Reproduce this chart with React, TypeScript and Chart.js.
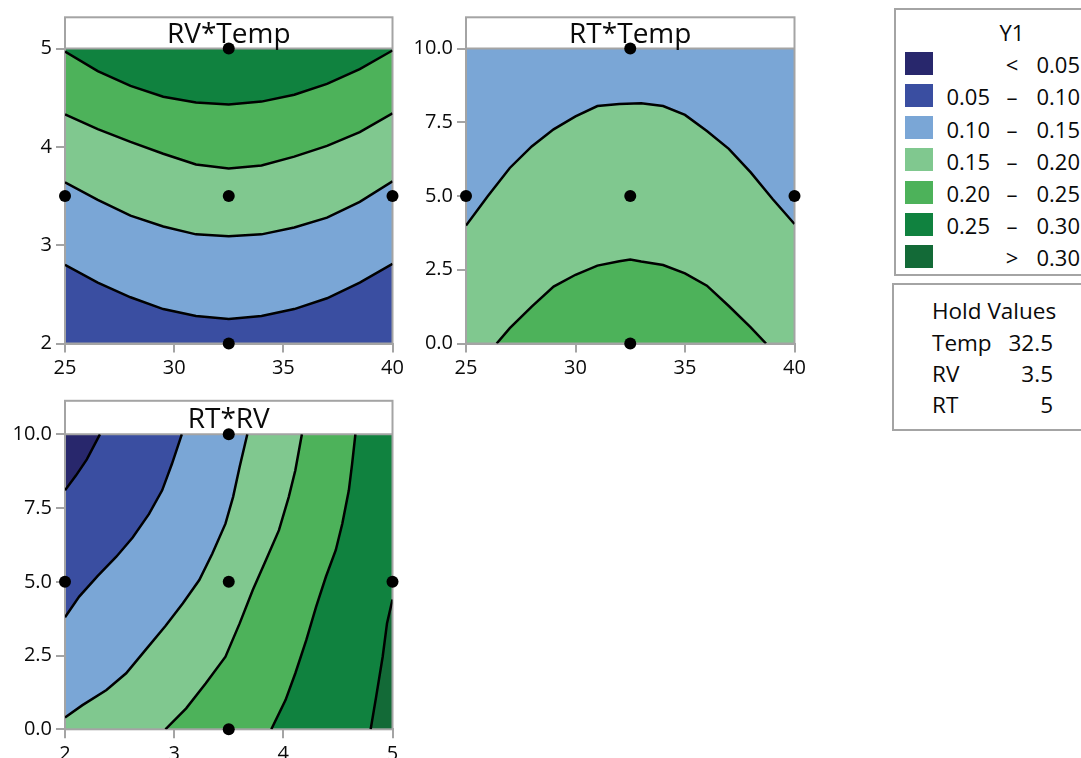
import React, { useEffect, useRef } from "react";
import { Chart, registerables } from "chart.js";

Chart.register(...registerables);

const FONT = "'Open Sans', 'Noto Sans', sans-serif";
const INK = "#0a0a0a";
const FRAME = "#A4A4A4";
const LINE = "#000000";

// ---------- Legend (Y1 bands) ----------
const BAND_COLORS = ["#28276C", "#3A4EA1", "#7AA6D6", "#80C88F", "#4DB25A", "#10823F", "#136A37"];
const BAND_LOW = ["", "0.05", "0.10", "0.15", "0.20", "0.25", ""];
const BAND_SYMBOL = ["<", "–", "–", "–", "–", "–", ">"];
const BAND_HIGH = ["0.05", "0.10", "0.15", "0.20", "0.25", "0.30", "0.30"];
const LEGEND_TITLE = "Y1";

// ---------- Hold values ----------
const HOLD_TITLE = "Hold Values";
const HOLD_NAMES = ["Temp", "RV", "RT"];
const HOLD_VALUES = ["32.5", "3.5", "5"];

// ---------- Axis ranges ----------
const TEMP_MIN = 25, TEMP_MAX = 40, TEMP_STEP = 5;
const RV_MIN = 2, RV_MAX = 5, RV_STEP = 1;
const RT_MIN = 0, RT_MAX = 10, RT_STEP = 2.5;

// ---------- Panel 1: RV*Temp ----------
const P1_TITLE = "RV*Temp";
const P1_TEMP = [25, 26.5, 28, 29.5, 31, 32.5, 34, 35.5, 37, 38.5, 40];
const P1_RV_025 = [4.97, 4.77, 4.62, 4.51, 4.45, 4.43, 4.46, 4.53, 4.64, 4.79, 4.98];
const P1_RV_020 = [4.33, 4.18, 4.05, 3.93, 3.82, 3.78, 3.81, 3.9, 4.01, 4.15, 4.34];
const P1_RV_015 = [3.64, 3.46, 3.3, 3.19, 3.11, 3.09, 3.11, 3.18, 3.28, 3.44, 3.65];
const P1_RV_010 = [2.8, 2.62, 2.47, 2.35, 2.28, 2.25, 2.28, 2.35, 2.46, 2.62, 2.81];
const P1_DESIGN_TEMP = [32.5, 25, 32.5, 40, 32.5];
const P1_DESIGN_RV = [5, 3.5, 3.5, 3.5, 2];

// ---------- Panel 2: RT*Temp ----------
const P2_TITLE = "RT*Temp";
const P2_TEMP_015 = [25, 26, 27, 28, 29, 30, 31, 32, 33, 34, 35, 36, 37, 38, 39, 40];
const P2_RT_015 = [4.0, 5.0, 5.95, 6.68, 7.26, 7.7, 8.05, 8.12, 8.14, 8.05, 7.75, 7.2, 6.6, 5.8, 4.9, 4.05];
const P2_TEMP_020 = [26.4, 27, 28, 29, 30, 31, 32, 32.5, 33, 34, 35, 36, 37, 38, 38.7];
const P2_RT_020 = [0, 0.52, 1.25, 1.93, 2.33, 2.64, 2.79, 2.85, 2.78, 2.66, 2.38, 1.96, 1.27, 0.55, 0];
const P2_DESIGN_TEMP = [32.5, 25, 32.5, 40, 32.5];
const P2_DESIGN_RT = [10, 5, 5, 5, 0];

// ---------- Panel 3: RT*RV ----------
const P3_TITLE = "RT*RV";
const P3_RV_005 = [2, 2.1, 2.2, 2.32];
const P3_RT_005 = [8.1, 8.6, 9.15, 10];
const P3_RV_010 = [2, 2.13, 2.3, 2.47, 2.62, 2.77, 2.89, 2.98, 3.07];
const P3_RT_010 = [3.8, 4.5, 5.2, 5.85, 6.5, 7.3, 8.1, 9.0, 10];
const P3_RV_015 = [2, 2.16, 2.38, 2.56, 2.74, 2.92, 3.08, 3.23, 3.35, 3.47, 3.54, 3.6, 3.67];
const P3_RT_015 = [0.4, 0.82, 1.33, 1.9, 2.7, 3.5, 4.27, 5.06, 5.96, 6.97, 7.88, 8.9, 10];
const P3_RV_020 = [2.92, 3.11, 3.29, 3.47, 3.6, 3.72, 3.84, 3.96, 4.05, 4.11, 4.17];
const P3_RT_020 = [0, 0.71, 1.56, 2.46, 3.59, 4.72, 5.73, 6.75, 7.88, 8.78, 10];
const P3_RV_025 = [3.89, 4.02, 4.11, 4.21, 4.3, 4.39, 4.48, 4.54, 4.6, 4.63, 4.66];
const P3_RT_025 = [0, 0.99, 1.9, 3.02, 4.15, 5.17, 6.07, 6.97, 8.1, 9.0, 10];
const P3_RV_030 = [4.8, 4.85, 4.91, 4.95, 5];
const P3_RT_030 = [0, 1.1, 2.46, 3.6, 4.4];
const P3_DESIGN_RV = [3.5, 2, 3.5, 5, 3.5];
const P3_DESIGN_RT = [10, 5, 5, 5, 0];

type Pt = { x: number; y: number };
const pts = (xs: number[], ys: number[]): Pt[] => xs.map((x, i) => ({ x, y: ys[i] }));

const contour = (data: Pt[], fill: any, color: string) => ({
  data,
  showLine: true,
  borderColor: LINE,
  borderWidth: 2.5,
  pointRadius: 0,
  pointHoverRadius: 0,
  tension: 0,
  fill,
  backgroundColor: color,
});

const region = (data: Pt[], color: string) => ({
  data,
  showLine: true,
  borderColor: "rgba(0,0,0,0)",
  borderWidth: 1,
  pointRadius: 0,
  pointHoverRadius: 0,
  tension: 0,
  fill: "shape",
  backgroundColor: color,
});

const design = (data: Pt[]) => ({
  data,
  showLine: false,
  pointRadius: 6,
  pointHoverRadius: 6,
  backgroundColor: "#000",
  borderColor: "#000",
  borderWidth: 0,
  clip: false,
});

type Box = { W: number; H: number; L: number; T: number; R: number; B: number; header: number };

function makeConfig(
  box: Box,
  title: string,
  bg: string,
  datasets: any[],
  x: { min: number; max: number; step: number; fmt?: (v: number) => string },
  y: { min: number; max: number; step: number; fmt?: (v: number) => string }
): any {
  const panelPlugin = {
    id: "panelFrame",
    beforeDraw(chart: any) {
      const { ctx, chartArea: a } = chart;
      ctx.save();
      ctx.fillStyle = bg;
      ctx.fillRect(a.left, a.top, a.right - a.left, a.bottom - a.top);
      ctx.restore();
    },
    beforeDatasetsDraw(chart: any) {
      const { ctx, chartArea: a } = chart;
      ctx.save();
      ctx.strokeStyle = FRAME;
      ctx.lineWidth = 2;
      ctx.strokeRect(a.left, a.top - box.header, a.right - a.left, a.bottom - a.top + box.header);
      ctx.beginPath();
      ctx.moveTo(a.left, a.top);
      ctx.lineTo(a.right, a.top);
      ctx.stroke();
      ctx.fillStyle = INK;
      ctx.font = `28px ${FONT}`;
      ctx.textAlign = "center";
      ctx.textBaseline = "alphabetic";
      ctx.fillText(title, (a.left + a.right) / 2, a.top - 6);
      ctx.restore();
    },
  };
  const axis = (r: { min: number; max: number; step: number; fmt?: (v: number) => string }, fit: (s: any) => void) => ({
    type: "linear",
    min: r.min,
    max: r.max,
    ticks: {
      stepSize: r.step,
      autoSkip: false,
      maxRotation: 0,
      padding: 4,
      color: INK,
      font: { family: FONT, size: 20 },
      callback: (v: any) => (r.fmt ? r.fmt(Number(v)) : String(v)),
    },
    grid: { drawOnChartArea: false, drawTicks: true, tickLength: 9, color: FRAME, lineWidth: 2 },
    border: { color: FRAME, width: 2 },
    afterFit: fit,
  });
  return {
    type: "scatter",
    data: { datasets },
    options: {
      responsive: false,
      animation: false,
      devicePixelRatio: 1,
      events: [],
      layout: { padding: { left: 0, top: box.T, right: box.W - box.R, bottom: 0 } },
      plugins: {
        legend: { display: false },
        tooltip: { enabled: false },
        title: { display: false },
        filler: { drawTime: "beforeDatasetsDraw" },
      },
      scales: {
        x: axis(x, (s: any) => { s.height = box.H - box.B; }),
        y: axis(y, (s: any) => { s.width = box.L; }),
      },
    },
    plugins: [panelPlugin],
  };
}

const one = (v: number) => v.toFixed(1);

function panel1(): any {
  const box: Box = { W: 420, H: 390, L: 65, T: 48.5, R: 392.5, B: 343.5, header: 31.2 };
  return makeConfig(
    box,
    P1_TITLE,
    BAND_COLORS[1],
    [
      design(pts(P1_DESIGN_TEMP, P1_DESIGN_RV)),
      contour(pts(P1_TEMP, P1_RV_025), "end", BAND_COLORS[5]),
      contour(pts(P1_TEMP, P1_RV_020), "-1", BAND_COLORS[4]),
      contour(pts(P1_TEMP, P1_RV_015), "-1", BAND_COLORS[3]),
      contour(pts(P1_TEMP, P1_RV_010), "-1", BAND_COLORS[2]),
    ],
    { min: TEMP_MIN, max: TEMP_MAX, step: TEMP_STEP },
    { min: RV_MIN, max: RV_MAX, step: RV_STEP }
  );
}

function panel2(): any {
  const box: Box = { W: 420, H: 390, L: 66, T: 48.5, R: 394.5, B: 343.5, header: 31.2 };
  return makeConfig(
    box,
    P2_TITLE,
    BAND_COLORS[3],
    [
      design(pts(P2_DESIGN_TEMP, P2_DESIGN_RT)),
      contour(pts(P2_TEMP_015, P2_RT_015), "end", BAND_COLORS[2]),
      contour(pts(P2_TEMP_020, P2_RT_020), "start", BAND_COLORS[4]),
    ],
    { min: TEMP_MIN, max: TEMP_MAX, step: TEMP_STEP },
    { min: RT_MIN, max: RT_MAX, step: RT_STEP, fmt: one }
  );
}

function panel3(): any {
  const box: Box = { W: 420, H: 373, L: 65, T: 49.3, R: 392.5, B: 344.3, header: 33.5 };
  const corners: Pt[] = [
    { x: RV_MAX, y: RT_MAX },
    { x: RV_MAX, y: RT_MIN },
    { x: RV_MIN, y: RT_MIN },
  ];
  const c005 = pts(P3_RV_005, P3_RT_005);
  const c010 = pts(P3_RV_010, P3_RT_010);
  const c015 = pts(P3_RV_015, P3_RT_015);
  const c020 = pts(P3_RV_020, P3_RT_020);
  const c025 = pts(P3_RV_025, P3_RT_025);
  const c030 = pts(P3_RV_030, P3_RT_030);
  return makeConfig(
    box,
    P3_TITLE,
    BAND_COLORS[0],
    [
      design(pts(P3_DESIGN_RV, P3_DESIGN_RT)),
      contour(c005, false, "transparent"),
      contour(c010, false, "transparent"),
      contour(c015, false, "transparent"),
      contour(c020, false, "transparent"),
      contour(c025, false, "transparent"),
      contour(c030, false, "transparent"),
      region([...c030, ...corners], BAND_COLORS[6]),
      region([...c025, ...corners], BAND_COLORS[5]),
      region([...c020, ...corners], BAND_COLORS[4]),
      region([...c015, ...corners], BAND_COLORS[3]),
      region([...c010, ...corners], BAND_COLORS[2]),
      region([...c005, ...corners], BAND_COLORS[1]),
    ],
    { min: RV_MIN, max: RV_MAX, step: RV_STEP },
    { min: RT_MIN, max: RT_MAX, step: RT_STEP, fmt: one }
  );
}

function Panel({ left, top, width, height, make }: { left: number; top: number; width: number; height: number; make: () => any }) {
  const ref = useRef<HTMLCanvasElement>(null);
  useEffect(() => {
    const chart = new Chart(ref.current as HTMLCanvasElement, make());
    return () => chart.destroy();
  }, []);
  return (
    <canvas
      ref={ref}
      width={width}
      height={height}
      style={{ position: "absolute", left, top, width, height }}
    />
  );
}

function Txt({ x, y, align, size, children }: { x: number; y: number; align: "left" | "center" | "right"; size: number; children: React.ReactNode }) {
  const tx = align === "left" ? "0" : align === "center" ? "-50%" : "-100%";
  return (
    <span
      style={{
        position: "absolute",
        left: x,
        top: y,
        transform: `translate(${tx}, -50%)`,
        fontSize: size,
        lineHeight: 1,
        whiteSpace: "nowrap",
        color: INK,
      }}
    >
      {children}
    </span>
  );
}

export default function App() {
  const LEG_SIZE = 22;
  const ROW0 = 63.2;
  const ROW_STEP = 32.2;
  return (
    <div
      style={{
        position: "fixed",
        left: 0,
        top: 0,
        width: 1081,
        height: 758,
        overflow: "hidden",
        background: "#fff",
        fontFamily: FONT,
      }}
    >
      <Panel left={0} top={0} width={420} height={390} make={panel1} />
      <Panel left={400} top={0} width={420} height={390} make={panel2} />
      <Panel left={0} top={385} width={420} height={373} make={panel3} />

      <div
        style={{
          position: "absolute",
          left: 894,
          top: 7.5,
          width: 260,
          height: 268,
          border: `2px solid ${FRAME}`,
          boxSizing: "border-box",
        }}
      />
      <Txt x={1012} y={31.5} align="center" size={LEG_SIZE}>{LEGEND_TITLE}</Txt>
      {BAND_COLORS.map((c, i) => (
        <React.Fragment key={i}>
          <div
            style={{
              position: "absolute",
              left: 905,
              top: ROW0 + i * ROW_STEP - 11.5,
              width: 28,
              height: 23,
              background: c,
            }}
          />
          {BAND_LOW[i] && <Txt x={990} y={ROW0 + i * ROW_STEP + 1} align="right" size={LEG_SIZE}>{BAND_LOW[i]}</Txt>}
          <Txt x={1012} y={ROW0 + i * ROW_STEP + 1} align="center" size={LEG_SIZE}>{BAND_SYMBOL[i]}</Txt>
          <Txt x={1036.5} y={ROW0 + i * ROW_STEP + 1} align="left" size={LEG_SIZE}>{BAND_HIGH[i]}</Txt>
        </React.Fragment>
      ))}

      <div
        style={{
          position: "absolute",
          left: 891.5,
          top: 283,
          width: 260,
          height: 147.5,
          border: `2px solid ${FRAME}`,
          boxSizing: "border-box",
        }}
      />
      <Txt x={932} y={311} align="left" size={22.5}>{HOLD_TITLE}</Txt>
      {HOLD_NAMES.map((n, i) => (
        <React.Fragment key={n}>
          <Txt x={932} y={342.5 + i * 31.3} align="left" size={22.5}>{n}</Txt>
          <Txt x={1053} y={342.5 + i * 31.3} align="right" size={22.5}>{HOLD_VALUES[i]}</Txt>
        </React.Fragment>
      ))}
    </div>
  );
}
